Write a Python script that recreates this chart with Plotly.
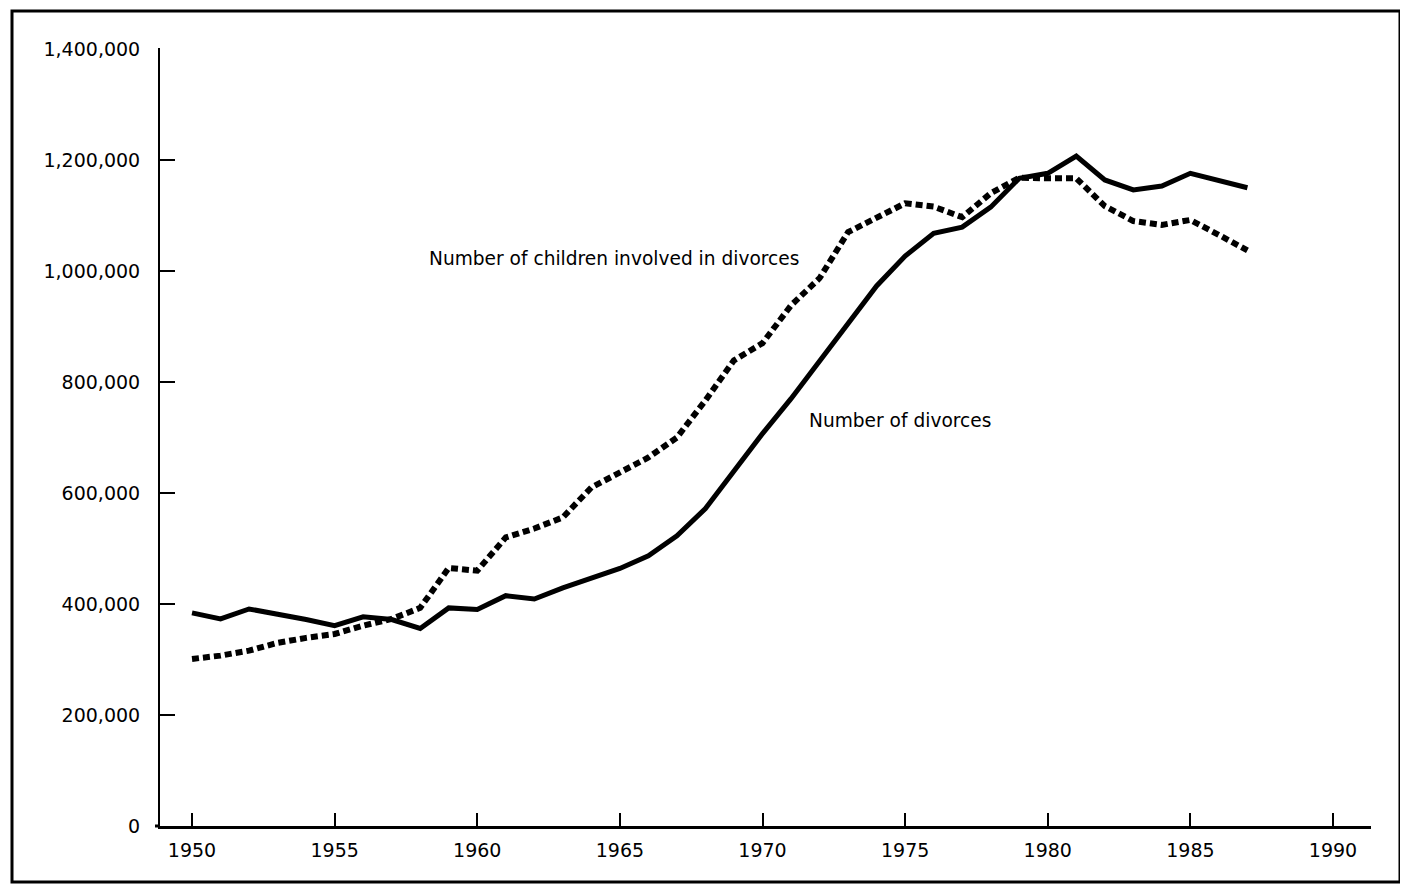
import plotly.graph_objects as go

years = list(range(1950, 1988))

divorces = [384000, 373000, 391000, 382000, 372000, 361000, 377000, 372000, 356000, 393000,
            390000, 415000, 409000, 429000, 446000, 464000, 487000, 523000, 572000, 640000,
            707000, 770000, 837000, 907000, 973000, 1027000, 1068000, 1079000, 1115000, 1167000,
            1176000, 1207000, 1164000, 1146000, 1153000, 1176000, 1164000, 1150000]

children = [301000, 307000, 316000, 330000, 339000, 346000, 361000, 373000, 393000, 465000,
            460000, 520000, 536000, 556000, 610000, 637000, 664000, 700000, 767000, 839000,
            870000, 938000, 987000, 1070000, 1095000, 1122000, 1116000, 1097000, 1140000, 1168000,
            1167000, 1167000, 1117000, 1090000, 1083000, 1092000, 1065000, 1037000]

x_ticks = [1950, 1955, 1960, 1965, 1970, 1975, 1980, 1985, 1990]
y_ticks = [0, 200000, 400000, 600000, 800000, 1000000, 1200000, 1400000]
y_tick_text = ["0", "200,000", "400,000", "600,000", "800,000", "1,000,000", "1,200,000", "1,400,000"]

label_children = "Number of children involved in divorces"
label_divorces = "Number of divorces"

FONT = "DejaVu Sans"

fig = go.Figure()
fig.add_trace(go.Scatter(x=years, y=children, mode="lines",
                         line=dict(color="black", width=6, dash="7px,4px"),
                         showlegend=False, hoverinfo="skip"))
fig.add_trace(go.Scatter(x=years, y=divorces, mode="lines",
                         line=dict(color="black", width=5),
                         showlegend=False, hoverinfo="skip"))

# page is rendered with an 8px body margin, so figure coords = page coords - 8
OFF = 8
L, R, T, B = 160 - OFF, 1371 - OFF, 48 - OFF, 826 - OFF
W, H = 1408 - OFF, 887 - OFF

fig.update_layout(
    width=W, height=H,
    margin=dict(l=L, r=W - R, t=T, b=H - B, pad=0),
    paper_bgcolor="white", plot_bgcolor="white",
    font=dict(family=FONT, size=19, color="black"),
    xaxis=dict(range=[1948.878, 1991.332], tickvals=x_ticks, ticks="inside", ticklen=13,
               tickwidth=2, tickcolor="black", showline=True, linecolor="black", linewidth=3,
               showgrid=False, zeroline=False, ticklabelstandoff=5,
               tickfont=dict(family=FONT, size=19, color="black")),
    yaxis=dict(range=[0, 1401800], tickvals=y_ticks, ticktext=y_tick_text, ticks="inside",
               ticklen=15, tickwidth=2, tickcolor="black", showline=True, linecolor="black",
               linewidth=2, showgrid=False, zeroline=False, ticklabelstandoff=14,
               tickfont=dict(family=FONT, size=19, color="black")),
    annotations=[
        dict(x=1958.238, y=1023400, xref="x", yref="y", text=label_children, showarrow=False,
             xanchor="left", yanchor="middle", font=dict(family=FONT, size=18.6, color="black")),
        dict(x=1971.56, y=731500, xref="x", yref="y", text=label_divorces, showarrow=False,
             xanchor="left", yanchor="middle", font=dict(family=FONT, size=18.6, color="black")),
    ],
    shapes=[
        dict(type="rect", xref="paper", yref="paper",
             x0=(12 - OFF - L) / (R - L), x1=(1400 - OFF - L) / (R - L),
             y0=(B - (882 - OFF)) / (B - T), y1=(B - (11 - OFF)) / (B - T),
             line=dict(color="black", width=3), fillcolor="rgba(0,0,0,0)", layer="below"),
        dict(type="line", xref="paper", yref="paper",
             x0=-5 / (R - L), x1=0, y0=0, y1=0,
             line=dict(color="black", width=3)),
    ],
)

fig.write_html("out.html")
